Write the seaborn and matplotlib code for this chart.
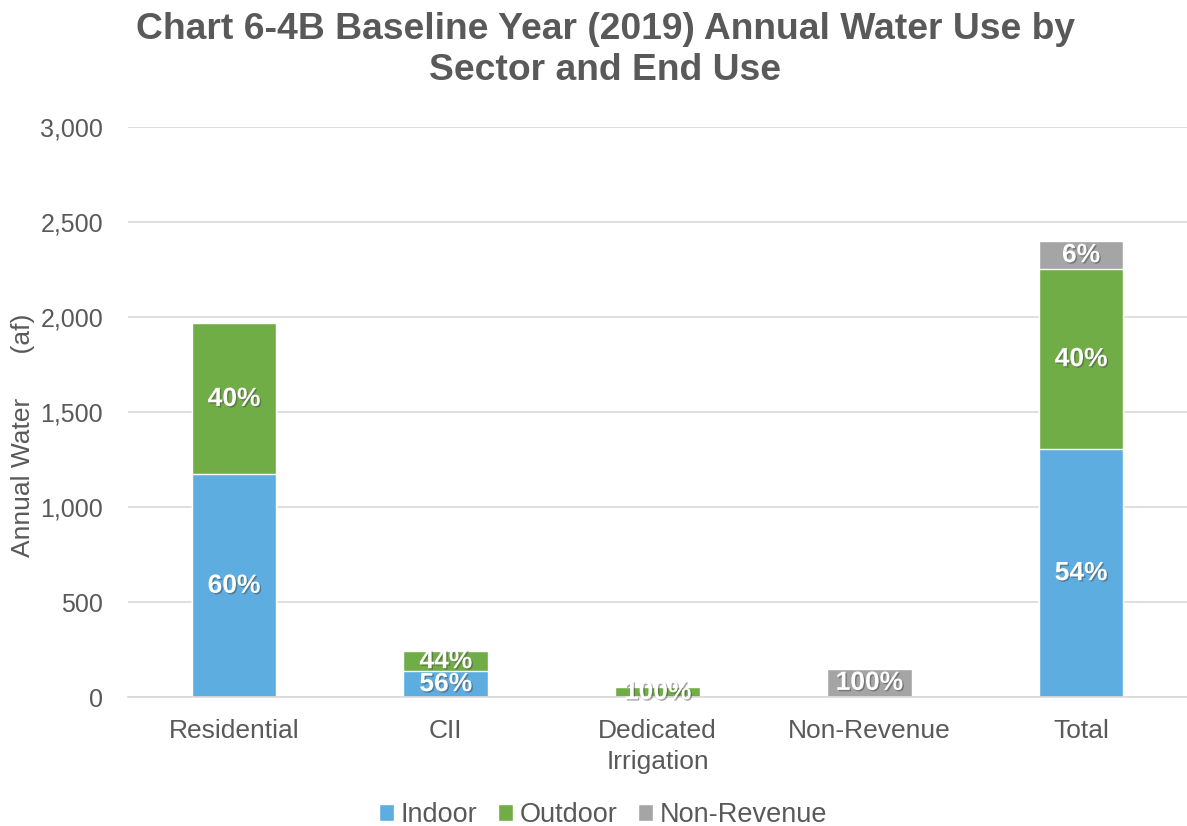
import pandas as pd
import matplotlib
matplotlib.use("Agg")
import matplotlib.pyplot as plt
import matplotlib.ticker as mticker
import matplotlib.patheffects as pe
from matplotlib.patches import Patch
import seaborn as sns

# ── Data ──────────────────────────────────────────────────
sectors     = ["Residential", "CII", "Dedicated\nIrrigation", "Non-Revenue", "Total"]
indoor      = [1172, 137, 0, 0, 1305]
outdoor     = [795, 105, 52, 0, 948]
non_revenue = [0, 0, 0, 150, 147]

indoor_pct  = ["60%", "56%", "", "", "54%"]
outdoor_pct = ["40%", "44%", "100%", "", "40%"]
nonrev_pct  = ["", "", "", "100%", "6%"]

# ── Style ─────────────────────────────────────────────────
sns.set_style("white")
plt.rcParams["font.family"] = ["Liberation Sans", "DejaVu Sans"]
GREY_TXT = "#595959"
BLUE     = "#5DADE0"
GREEN    = "#70AD47"
GREY     = "#A5A5A5"
GRID     = "#D9D9D9"

df = pd.DataFrame({"sector": sectors, "indoor": indoor,
                   "outdoor": outdoor, "nonrev": non_revenue})
df["lvl1"] = df["indoor"]
df["lvl2"] = df["lvl1"] + df["outdoor"]
df["lvl3"] = df["lvl2"] + df["nonrev"]

fig = plt.figure(figsize=(11.87, 8.26), dpi=100)
ax = fig.add_axes([0.108, 0.156, 0.892, 0.690])

# stacked bars drawn as overlapping cumulative layers
for col, color in [("lvl3", GREY), ("lvl2", GREEN), ("lvl1", BLUE)]:
    sns.barplot(data=df, x="sector", y=col, color=color, width=0.4,
                saturation=1, ax=ax, errorbar=None)

# segment labels
shadow = [pe.withSimplePatchShadow(offset=(1, -1), shadow_rgbFace="#404040", alpha=0.45)]
for i in range(len(sectors)):
    segs = [(0, df["lvl1"][i], indoor_pct[i]),
            (df["lvl1"][i], df["lvl2"][i], outdoor_pct[i]),
            (df["lvl2"][i], df["lvl3"][i], nonrev_pct[i])]
    for lo, hi, txt in segs:
        if txt:
            ax.text(i, (lo + hi) / 2, txt, ha="center", va="center",
                    color="white", fontsize=19, fontweight="bold",
                    path_effects=shadow)

ax.set_ylim(0, 3000)
ax.set_xlim(-0.5, 4.5)
ax.yaxis.set_major_locator(mticker.MultipleLocator(500))
ax.yaxis.set_major_formatter(mticker.FuncFormatter(lambda v, _: f"{v:,.0f}"))
ax.yaxis.grid(True, color=GRID, linewidth=1.2)
ax.set_axisbelow(True)
for s in ["top", "right", "left"]:
    ax.spines[s].set_visible(False)
ax.spines["bottom"].set_color(GRID)
ax.spines["bottom"].set_linewidth(1.2)

ax.tick_params(axis="y", length=0, labelsize=18, labelcolor=GREY_TXT, pad=18)
ax.tick_params(axis="x", which="major", length=0, labelsize=19,
               labelcolor=GREY_TXT, pad=16)
for lbl in ax.get_xticklabels():
    lbl.set_linespacing(1.35)
ax.set_xticks([x - 0.5 for x in range(6)], minor=True)
ax.tick_params(axis="x", which="minor", length=9, color=GRID, width=1.2)

ax.set_xlabel("")
ax.set_ylabel("Annual Water      (af)", fontsize=19, color=GREY_TXT)
ax.yaxis.set_label_coords(-0.088, 0.46)

fig.suptitle("Chart 6-4B Baseline Year (2019) Annual Water Use by\nSector and End Use",
             x=0.51, y=0.985, fontsize=26.8, fontweight="bold", color=GREY_TXT,
             linespacing=1.2)

handles = [Patch(facecolor=BLUE, label="Indoor"),
           Patch(facecolor=GREEN, label="Outdoor"),
           Patch(facecolor=GREY, label="Non-Revenue")]
fig.legend(handles=handles, loc="lower center", bbox_to_anchor=(0.508, -0.032),
           ncol=3, frameon=False, fontsize=19.5, labelcolor=GREY_TXT,
           handlelength=0.55, handleheight=0.55, handletextpad=0.25,
           columnspacing=0.75)

fig.savefig("out.png", dpi=100, facecolor="white")
